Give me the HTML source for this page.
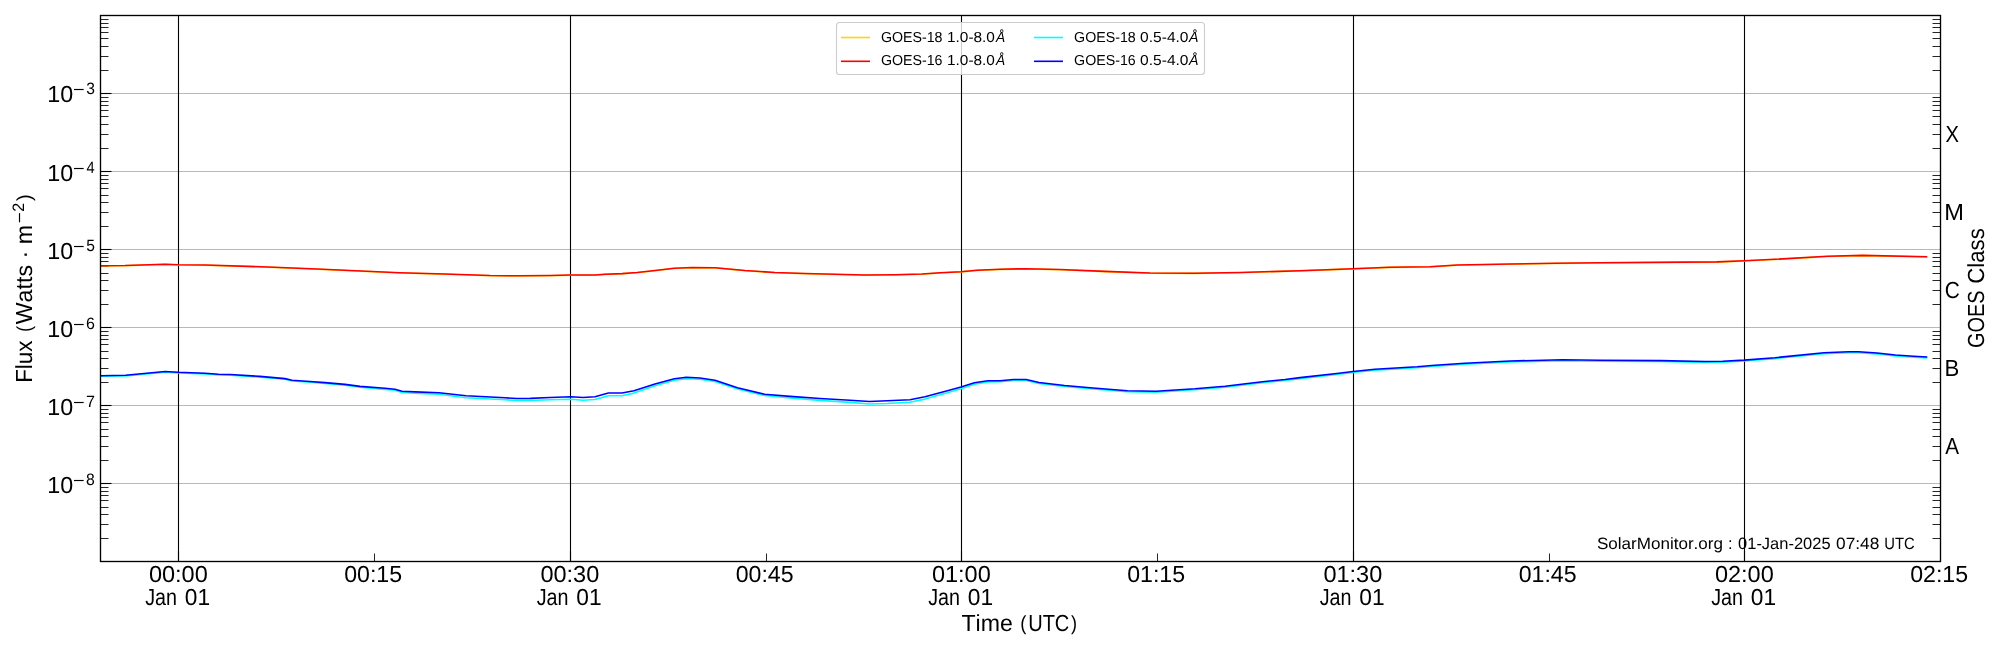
<!DOCTYPE html>
<html><head><meta charset="utf-8"><style>
html,body{margin:0;padding:0;background:#fff;width:2000px;height:650px;overflow:hidden}
svg{display:block;font-family:"Liberation Sans",sans-serif;font-kerning:none;text-rendering:geometricPrecision}
text{font-kerning:none}
</style></head><body>
<svg width="2000" height="650" viewBox="0 0 2000 650">
<rect width="2000" height="650" fill="#fff"/>
<g stroke="#b8b8b8" stroke-width="1.1"><line x1="100.5" y1="93.5" x2="1940.5" y2="93.5"/><line x1="100.5" y1="171.5" x2="1940.5" y2="171.5"/><line x1="100.5" y1="249.5" x2="1940.5" y2="249.5"/><line x1="100.5" y1="327.5" x2="1940.5" y2="327.5"/><line x1="100.5" y1="405.5" x2="1940.5" y2="405.5"/><line x1="100.5" y1="483.5" x2="1940.5" y2="483.5"/></g>
<g stroke="#000" stroke-width="1.1"><line x1="178.5" y1="15.5" x2="178.5" y2="561.5"/><line x1="570.5" y1="15.5" x2="570.5" y2="561.5"/><line x1="961.5" y1="15.5" x2="961.5" y2="561.5"/><line x1="1353.5" y1="15.5" x2="1353.5" y2="561.5"/><line x1="1744.5" y1="15.5" x2="1744.5" y2="561.5"/></g>
<g stroke="#000" stroke-width="1.1"><line x1="100.5" y1="483.5" x2="111.5" y2="483.5"/><line x1="100.5" y1="405.5" x2="111.5" y2="405.5"/><line x1="100.5" y1="327.5" x2="111.5" y2="327.5"/><line x1="100.5" y1="249.5" x2="111.5" y2="249.5"/><line x1="100.5" y1="171.5" x2="111.5" y2="171.5"/><line x1="100.5" y1="93.5" x2="111.5" y2="93.5"/><line x1="178.5" y1="561.5" x2="178.5" y2="550.5"/><line x1="570.5" y1="561.5" x2="570.5" y2="550.5"/><line x1="961.5" y1="561.5" x2="961.5" y2="550.5"/><line x1="1353.5" y1="561.5" x2="1353.5" y2="550.5"/><line x1="1744.5" y1="561.5" x2="1744.5" y2="550.5"/></g>
<g stroke="#000" stroke-width="0.85"><line x1="100.5" y1="538.5" x2="108.5" y2="538.5"/><line x1="1940.5" y1="538.5" x2="1932.5" y2="538.5"/><line x1="100.5" y1="524.5" x2="108.5" y2="524.5"/><line x1="1940.5" y1="524.5" x2="1932.5" y2="524.5"/><line x1="100.5" y1="514.5" x2="108.5" y2="514.5"/><line x1="1940.5" y1="514.5" x2="1932.5" y2="514.5"/><line x1="100.5" y1="507.5" x2="108.5" y2="507.5"/><line x1="1940.5" y1="507.5" x2="1932.5" y2="507.5"/><line x1="100.5" y1="500.5" x2="108.5" y2="500.5"/><line x1="1940.5" y1="500.5" x2="1932.5" y2="500.5"/><line x1="100.5" y1="495.5" x2="108.5" y2="495.5"/><line x1="1940.5" y1="495.5" x2="1932.5" y2="495.5"/><line x1="100.5" y1="491.5" x2="108.5" y2="491.5"/><line x1="1940.5" y1="491.5" x2="1932.5" y2="491.5"/><line x1="100.5" y1="487.5" x2="108.5" y2="487.5"/><line x1="1940.5" y1="487.5" x2="1932.5" y2="487.5"/><line x1="100.5" y1="460.5" x2="108.5" y2="460.5"/><line x1="1940.5" y1="460.5" x2="1932.5" y2="460.5"/><line x1="100.5" y1="446.5" x2="108.5" y2="446.5"/><line x1="1940.5" y1="446.5" x2="1932.5" y2="446.5"/><line x1="100.5" y1="436.5" x2="108.5" y2="436.5"/><line x1="1940.5" y1="436.5" x2="1932.5" y2="436.5"/><line x1="100.5" y1="429.5" x2="108.5" y2="429.5"/><line x1="1940.5" y1="429.5" x2="1932.5" y2="429.5"/><line x1="100.5" y1="422.5" x2="108.5" y2="422.5"/><line x1="1940.5" y1="422.5" x2="1932.5" y2="422.5"/><line x1="100.5" y1="417.5" x2="108.5" y2="417.5"/><line x1="1940.5" y1="417.5" x2="1932.5" y2="417.5"/><line x1="100.5" y1="413.5" x2="108.5" y2="413.5"/><line x1="1940.5" y1="413.5" x2="1932.5" y2="413.5"/><line x1="100.5" y1="409.5" x2="108.5" y2="409.5"/><line x1="1940.5" y1="409.5" x2="1932.5" y2="409.5"/><line x1="100.5" y1="382.5" x2="108.5" y2="382.5"/><line x1="1940.5" y1="382.5" x2="1932.5" y2="382.5"/><line x1="100.5" y1="368.5" x2="108.5" y2="368.5"/><line x1="1940.5" y1="368.5" x2="1932.5" y2="368.5"/><line x1="100.5" y1="358.5" x2="108.5" y2="358.5"/><line x1="1940.5" y1="358.5" x2="1932.5" y2="358.5"/><line x1="100.5" y1="351.5" x2="108.5" y2="351.5"/><line x1="1940.5" y1="351.5" x2="1932.5" y2="351.5"/><line x1="100.5" y1="344.5" x2="108.5" y2="344.5"/><line x1="1940.5" y1="344.5" x2="1932.5" y2="344.5"/><line x1="100.5" y1="339.5" x2="108.5" y2="339.5"/><line x1="1940.5" y1="339.5" x2="1932.5" y2="339.5"/><line x1="100.5" y1="335.5" x2="108.5" y2="335.5"/><line x1="1940.5" y1="335.5" x2="1932.5" y2="335.5"/><line x1="100.5" y1="331.5" x2="108.5" y2="331.5"/><line x1="1940.5" y1="331.5" x2="1932.5" y2="331.5"/><line x1="100.5" y1="304.5" x2="108.5" y2="304.5"/><line x1="1940.5" y1="304.5" x2="1932.5" y2="304.5"/><line x1="100.5" y1="290.5" x2="108.5" y2="290.5"/><line x1="1940.5" y1="290.5" x2="1932.5" y2="290.5"/><line x1="100.5" y1="280.5" x2="108.5" y2="280.5"/><line x1="1940.5" y1="280.5" x2="1932.5" y2="280.5"/><line x1="100.5" y1="273.5" x2="108.5" y2="273.5"/><line x1="1940.5" y1="273.5" x2="1932.5" y2="273.5"/><line x1="100.5" y1="266.5" x2="108.5" y2="266.5"/><line x1="1940.5" y1="266.5" x2="1932.5" y2="266.5"/><line x1="100.5" y1="261.5" x2="108.5" y2="261.5"/><line x1="1940.5" y1="261.5" x2="1932.5" y2="261.5"/><line x1="100.5" y1="257.5" x2="108.5" y2="257.5"/><line x1="1940.5" y1="257.5" x2="1932.5" y2="257.5"/><line x1="100.5" y1="253.5" x2="108.5" y2="253.5"/><line x1="1940.5" y1="253.5" x2="1932.5" y2="253.5"/><line x1="100.5" y1="226.5" x2="108.5" y2="226.5"/><line x1="1940.5" y1="226.5" x2="1932.5" y2="226.5"/><line x1="100.5" y1="212.5" x2="108.5" y2="212.5"/><line x1="1940.5" y1="212.5" x2="1932.5" y2="212.5"/><line x1="100.5" y1="202.5" x2="108.5" y2="202.5"/><line x1="1940.5" y1="202.5" x2="1932.5" y2="202.5"/><line x1="100.5" y1="195.5" x2="108.5" y2="195.5"/><line x1="1940.5" y1="195.5" x2="1932.5" y2="195.5"/><line x1="100.5" y1="188.5" x2="108.5" y2="188.5"/><line x1="1940.5" y1="188.5" x2="1932.5" y2="188.5"/><line x1="100.5" y1="183.5" x2="108.5" y2="183.5"/><line x1="1940.5" y1="183.5" x2="1932.5" y2="183.5"/><line x1="100.5" y1="179.5" x2="108.5" y2="179.5"/><line x1="1940.5" y1="179.5" x2="1932.5" y2="179.5"/><line x1="100.5" y1="175.5" x2="108.5" y2="175.5"/><line x1="1940.5" y1="175.5" x2="1932.5" y2="175.5"/><line x1="100.5" y1="148.5" x2="108.5" y2="148.5"/><line x1="1940.5" y1="148.5" x2="1932.5" y2="148.5"/><line x1="100.5" y1="134.5" x2="108.5" y2="134.5"/><line x1="1940.5" y1="134.5" x2="1932.5" y2="134.5"/><line x1="100.5" y1="124.5" x2="108.5" y2="124.5"/><line x1="1940.5" y1="124.5" x2="1932.5" y2="124.5"/><line x1="100.5" y1="116.5" x2="108.5" y2="116.5"/><line x1="1940.5" y1="116.5" x2="1932.5" y2="116.5"/><line x1="100.5" y1="110.5" x2="108.5" y2="110.5"/><line x1="1940.5" y1="110.5" x2="1932.5" y2="110.5"/><line x1="100.5" y1="105.5" x2="108.5" y2="105.5"/><line x1="1940.5" y1="105.5" x2="1932.5" y2="105.5"/><line x1="100.5" y1="101.5" x2="108.5" y2="101.5"/><line x1="1940.5" y1="101.5" x2="1932.5" y2="101.5"/><line x1="100.5" y1="97.5" x2="108.5" y2="97.5"/><line x1="1940.5" y1="97.5" x2="1932.5" y2="97.5"/><line x1="100.5" y1="70.5" x2="108.5" y2="70.5"/><line x1="1940.5" y1="70.5" x2="1932.5" y2="70.5"/><line x1="100.5" y1="56.5" x2="108.5" y2="56.5"/><line x1="1940.5" y1="56.5" x2="1932.5" y2="56.5"/><line x1="100.5" y1="46.5" x2="108.5" y2="46.5"/><line x1="1940.5" y1="46.5" x2="1932.5" y2="46.5"/><line x1="100.5" y1="38.5" x2="108.5" y2="38.5"/><line x1="1940.5" y1="38.5" x2="1932.5" y2="38.5"/><line x1="100.5" y1="32.5" x2="108.5" y2="32.5"/><line x1="1940.5" y1="32.5" x2="1932.5" y2="32.5"/><line x1="100.5" y1="27.5" x2="108.5" y2="27.5"/><line x1="1940.5" y1="27.5" x2="1932.5" y2="27.5"/><line x1="100.5" y1="23.5" x2="108.5" y2="23.5"/><line x1="1940.5" y1="23.5" x2="1932.5" y2="23.5"/><line x1="100.5" y1="19.5" x2="108.5" y2="19.5"/><line x1="1940.5" y1="19.5" x2="1932.5" y2="19.5"/><line x1="374.5" y1="561.5" x2="374.5" y2="553.5"/><line x1="766.5" y1="561.5" x2="766.5" y2="553.5"/><line x1="1157.5" y1="561.5" x2="1157.5" y2="553.5"/><line x1="1549.5" y1="561.5" x2="1549.5" y2="553.5"/></g>
<defs><clipPath id="ax"><rect x="100.5" y="15.5" width="1840.0" height="546.0"/></clipPath></defs>
<g clip-path="url(#ax)" fill="none" stroke-width="1.6" stroke-linejoin="round" stroke-linecap="butt">
<polyline points="96.0,266.0 100.0,265.9 125.0,265.7 165.2,264.4 178.5,265.0 205.0,265.2 268.0,267.2 317.0,269.2 400.0,273.0 445.0,274.2 490.0,275.7 520.0,276.0 550.0,275.7 570.0,275.2 595.0,275.2 605.0,274.4 622.0,273.8 637.0,272.7 655.0,270.7 674.0,268.5 692.0,267.7 715.0,267.9 745.0,270.7 775.0,272.7 805.0,273.7 835.0,274.5 865.0,275.2 895.0,274.9 922.0,274.2 940.0,273.0 961.0,271.9 977.0,270.4 1000.0,269.5 1025.5,268.9 1060.0,269.7 1105.0,271.6 1150.0,273.2 1195.0,273.4 1240.0,272.7 1300.0,270.9 1353.0,268.9 1390.0,267.4 1430.0,266.9 1457.0,265.2 1510.0,264.2 1555.0,263.5 1600.0,262.9 1717.0,262.1 1744.0,261.0 1775.0,259.5 1827.5,256.5 1862.5,255.6 1927.3,257.0" stroke="#ffd700"/>
<polyline points="96.0,265.8 100.0,265.7 125.0,265.5 165.2,264.2 178.5,264.8 205.0,265.0 268.0,267.0 317.0,269.0 400.0,272.8 445.0,274.0 490.0,275.5 520.0,275.8 550.0,275.5 570.0,275.0 595.0,275.0 605.0,274.2 622.0,273.6 637.0,272.5 655.0,270.5 674.0,268.3 692.0,267.5 715.0,267.7 745.0,270.5 775.0,272.5 805.0,273.5 835.0,274.3 865.0,275.0 895.0,274.7 922.0,274.0 940.0,272.8 961.0,271.7 977.0,270.2 1000.0,269.3 1025.5,268.7 1060.0,269.5 1105.0,271.4 1150.0,273.0 1195.0,273.2 1240.0,272.5 1300.0,270.7 1353.0,268.7 1390.0,267.2 1430.0,266.7 1457.0,265.0 1510.0,264.0 1555.0,263.3 1600.0,262.7 1717.0,261.9 1744.0,260.8 1775.0,259.3 1827.5,256.3 1862.5,255.4 1927.3,256.8" stroke="#ff0000"/>
<polyline points="96.0,376.4 100.0,376.3 125.5,375.9 165.2,372.1 178.0,372.9 205.0,373.9 218.4,374.9 230.4,375.2 260.0,377.1 285.0,379.3 292.0,381.0 310.0,382.2 325.0,383.4 345.0,385.3 360.0,387.3 385.0,389.4 395.0,390.3 402.0,392.5 415.0,393.2 439.0,394.3 466.0,397.7 505.0,399.8 517.0,400.5 530.4,400.5 550.0,399.8 571.0,399.2 583.0,400.2 595.0,399.5 608.4,395.8 622.0,395.7 634.0,393.1 655.0,385.8 674.4,380.3 686.4,378.6 700.0,379.2 715.0,381.4 737.5,389.0 764.5,395.5 790.0,398.0 820.0,400.4 850.0,402.4 869.4,404.0 887.4,403.5 910.0,402.2 925.0,399.1 947.4,392.7 961.0,388.7 974.4,384.2 987.9,381.9 1000.0,381.7 1013.5,380.5 1026.2,380.5 1039.0,383.5 1064.5,386.5 1090.0,388.7 1127.4,391.7 1156.0,392.2 1195.0,389.8 1225.0,387.2 1262.4,382.7 1285.0,380.5 1300.0,378.6 1339.0,374.3 1353.0,372.5 1375.0,370.2 1417.0,367.7 1435.0,366.2 1465.0,364.1 1510.0,361.9 1562.4,360.7 1600.0,361.2 1661.0,361.5 1705.0,362.4 1722.5,362.1 1744.0,361.0 1775.0,358.6 1824.0,353.7 1848.5,352.7 1858.5,352.6 1877.0,353.9 1895.4,355.9 1913.8,357.2 1927.3,357.9" stroke="#00ffff"/>
<polyline points="96.0,375.8 100.0,375.7 125.5,375.3 165.2,371.5 178.0,372.3 205.0,373.2 218.4,374.2 230.4,374.5 260.0,376.4 285.0,378.6 292.0,380.3 310.0,381.5 325.0,382.6 345.0,384.4 360.0,386.4 385.0,388.3 395.0,389.2 402.0,391.3 415.0,391.9 439.0,392.7 466.0,395.7 505.0,397.8 517.0,398.5 530.4,398.4 550.0,397.5 571.0,396.7 583.0,397.5 595.0,396.7 608.4,393.0 622.0,393.0 634.0,390.7 655.0,384.0 674.4,378.7 686.4,377.2 700.0,378.0 715.0,380.2 737.5,387.7 764.5,394.2 790.0,396.4 820.0,398.5 850.0,400.2 869.4,401.5 887.4,400.8 910.0,399.7 925.0,396.7 947.4,390.7 961.0,387.0 974.4,382.8 987.9,380.7 1000.0,380.7 1013.5,379.5 1026.2,379.5 1039.0,382.5 1064.5,385.5 1090.0,387.7 1127.4,390.7 1156.0,391.2 1195.0,388.8 1225.0,386.2 1262.4,381.7 1285.0,379.5 1300.0,377.6 1339.0,373.3 1353.0,371.5 1375.0,369.2 1417.0,366.7 1435.0,365.2 1465.0,363.2 1510.0,361.0 1562.4,359.8 1600.0,360.3 1661.0,360.6 1705.0,361.5 1722.5,361.2 1744.0,360.1 1775.0,357.7 1824.0,352.8 1848.5,351.8 1858.5,351.7 1877.0,353.0 1895.4,355.0 1913.8,356.3 1927.3,357.0" stroke="#0000ff"/>
</g>
<rect x="100.5" y="15.5" width="1840.0" height="546.0" fill="none" stroke="#000" stroke-width="1.35"/>
<rect x="836.5" y="22.5" width="368" height="52" rx="3" ry="3" fill="#fff" fill-opacity="0.8" stroke="#cccccc" stroke-width="1.1"/>
<line x1="841.0" y1="37.5" x2="870.0" y2="37.5" stroke="#ffd700" stroke-width="1.6"/>
<line x1="841.0" y1="61.3" x2="870.0" y2="61.3" stroke="#ff0000" stroke-width="1.6"/>
<line x1="1034.0" y1="37.5" x2="1063.0" y2="37.5" stroke="#00ffff" stroke-width="1.6"/>
<line x1="1034.0" y1="61.3" x2="1063.0" y2="61.3" stroke="#0000ff" stroke-width="1.6"/>
<defs><filter id="gr" filterUnits="userSpaceOnUse" x="0" y="0" width="2000" height="650"><feColorMatrix type="saturate" values="0"/></filter></defs>
<g filter="url(#gr)"><text transform="translate(880.88,42.00) scale(0.9805,1)" font-size="14.50" fill="#000">GOES-18</text><text transform="translate(947.03,42.00) scale(1.0605,1)" font-size="14.50" fill="#000">1.0-8.0</text><text transform="translate(995.98,42.00) scale(0.9472,1)" font-size="14.50" fill="#000"><tspan font-style="italic">Å</tspan></text><text transform="translate(1074.08,42.00) scale(0.9805,1)" font-size="14.50" fill="#000">GOES-18</text><text transform="translate(1140.09,42.00) scale(1.0725,1)" font-size="14.50" fill="#000">0.5-4.0</text><text transform="translate(1189.00,42.00) scale(0.9784,1)" font-size="14.50" fill="#000"><tspan font-style="italic">Å</tspan></text><text transform="translate(880.88,65.00) scale(0.9806,1)" font-size="14.50" fill="#000">GOES-16</text><text transform="translate(947.03,65.00) scale(1.0605,1)" font-size="14.50" fill="#000">1.0-8.0</text><text transform="translate(995.98,65.00) scale(0.9472,1)" font-size="14.50" fill="#000"><tspan font-style="italic">Å</tspan></text><text transform="translate(1074.08,65.00) scale(0.9806,1)" font-size="14.50" fill="#000">GOES-16</text><text transform="translate(1140.09,65.00) scale(1.0725,1)" font-size="14.50" fill="#000">0.5-4.0</text><text transform="translate(1189.00,65.00) scale(0.9784,1)" font-size="14.50" fill="#000"><tspan font-style="italic">Å</tspan></text><text transform="translate(1728.10,549.00) scale(1.0000,1)" font-size="16.40" fill="#000">:</text><text transform="translate(1596.93,549.00) scale(1.0400,1)" font-size="16.40" fill="#000">SolarMonitor.org</text><text transform="translate(1738.06,549.00) scale(1.0048,1)" font-size="16.40" fill="#000">01-Jan-2025</text><text transform="translate(1836.02,549.00) scale(1.0558,1)" font-size="16.40" fill="#000">07:48</text><text transform="translate(1884.26,549.00) scale(0.9021,1)" font-size="16.40" fill="#000">UTC</text><text transform="translate(148.88,582.00) scale(1.0126,1)" font-size="23.26" fill="#000">00:00</text><text transform="translate(145.19,605.00) scale(0.8476,1)" font-size="23.26" fill="#000">Jan</text><text transform="translate(184.81,605.00) scale(0.9778,1)" font-size="23.26" fill="#000">01</text><text transform="translate(344.14,582.00) scale(0.9961,1)" font-size="23.26" fill="#000">00:15</text><text transform="translate(540.38,582.00) scale(1.0126,1)" font-size="23.26" fill="#000">00:30</text><text transform="translate(536.69,605.00) scale(0.8476,1)" font-size="23.26" fill="#000">Jan</text><text transform="translate(576.31,605.00) scale(0.9778,1)" font-size="23.26" fill="#000">01</text><text transform="translate(735.64,582.00) scale(0.9961,1)" font-size="23.26" fill="#000">00:45</text><text transform="translate(931.88,582.00) scale(1.0126,1)" font-size="23.26" fill="#000">01:00</text><text transform="translate(928.19,605.00) scale(0.8476,1)" font-size="23.26" fill="#000">Jan</text><text transform="translate(967.81,605.00) scale(0.9778,1)" font-size="23.26" fill="#000">01</text><text transform="translate(1127.14,582.00) scale(0.9961,1)" font-size="23.26" fill="#000">01:15</text><text transform="translate(1323.38,582.00) scale(1.0126,1)" font-size="23.26" fill="#000">01:30</text><text transform="translate(1319.69,605.00) scale(0.8476,1)" font-size="23.26" fill="#000">Jan</text><text transform="translate(1359.31,605.00) scale(0.9778,1)" font-size="23.26" fill="#000">01</text><text transform="translate(1518.64,582.00) scale(0.9961,1)" font-size="23.26" fill="#000">01:45</text><text transform="translate(1714.88,582.00) scale(1.0126,1)" font-size="23.26" fill="#000">02:00</text><text transform="translate(1711.19,605.00) scale(0.8476,1)" font-size="23.26" fill="#000">Jan</text><text transform="translate(1750.81,605.00) scale(0.9778,1)" font-size="23.26" fill="#000">01</text><text transform="translate(1910.14,582.00) scale(0.9961,1)" font-size="23.26" fill="#000">02:15</text><text transform="translate(47.17,102.00) scale(1.0025,1)" font-size="23.26" fill="#000">10</text><text transform="translate(73.12,94.89) scale(1.2100,1)" font-size="16.50" fill="#000">−</text><text transform="translate(86.21,94.10) scale(0.9459,1)" font-size="16.50" fill="#000">3</text><text transform="translate(47.17,181.00) scale(1.0025,1)" font-size="23.26" fill="#000">10</text><text transform="translate(73.12,173.89) scale(1.2100,1)" font-size="16.50" fill="#000">−</text><text transform="translate(86.46,173.10) scale(0.8900,1)" font-size="16.50" fill="#000">4</text><text transform="translate(47.17,259.00) scale(1.0025,1)" font-size="23.26" fill="#000">10</text><text transform="translate(73.12,251.89) scale(1.2100,1)" font-size="16.50" fill="#000">−</text><text transform="translate(86.18,251.10) scale(0.9459,1)" font-size="16.50" fill="#000">5</text><text transform="translate(47.17,337.00) scale(1.0025,1)" font-size="23.26" fill="#000">10</text><text transform="translate(73.12,329.89) scale(1.2100,1)" font-size="16.50" fill="#000">−</text><text transform="translate(85.99,329.10) scale(0.9720,1)" font-size="16.50" fill="#000">6</text><text transform="translate(47.17,415.00) scale(1.0025,1)" font-size="23.26" fill="#000">10</text><text transform="translate(73.12,407.89) scale(1.2100,1)" font-size="16.50" fill="#000">−</text><text transform="translate(85.97,407.10) scale(0.9866,1)" font-size="16.50" fill="#000">7</text><text transform="translate(47.17,493.00) scale(1.0025,1)" font-size="23.26" fill="#000">10</text><text transform="translate(73.12,485.89) scale(1.2100,1)" font-size="16.50" fill="#000">−</text><text transform="translate(86.11,485.10) scale(0.9558,1)" font-size="16.50" fill="#000">8</text><text transform="translate(1945.45,142.00) scale(0.8688,1)" font-size="23.26" fill="#000">X</text><text transform="translate(1944.16,220.00) scale(1.0154,1)" font-size="23.26" fill="#000">M</text><text transform="translate(1944.74,297.80) scale(0.8961,1)" font-size="23.26" fill="#000">C</text><text transform="translate(1944.58,376.00) scale(0.9532,1)" font-size="23.26" fill="#000">B</text><text transform="translate(1945.26,454.00) scale(0.8883,1)" font-size="23.26" fill="#000">A</text><text transform="translate(961.48,631.00) scale(0.9954,1)" font-size="23.26" fill="#000">Time</text><text transform="translate(1020.15,629.70) scale(0.9086,1)" font-size="20.34" fill="#000">(</text><text transform="translate(1028.15,631.00) scale(0.8621,1)" font-size="23.26" fill="#000">UTC</text><text transform="translate(1070.99,629.70) scale(0.8901,1)" font-size="20.34" fill="#000">)</text><text transform="translate(32.00,382.84) rotate(-90) scale(0.9621,1)" font-size="23.26" fill="#000">Flux</text><text transform="translate(30.75,331.78) rotate(-90) scale(0.8589,1)" font-size="20.20" fill="#000">(</text><text transform="translate(32.00,324.30) rotate(-90) scale(0.9984,1)" font-size="23.26" fill="#000">Watts · m</text><text transform="translate(24.80,223.23) rotate(-90) scale(1.1477,1)" font-size="16.50" fill="#000">−</text><text transform="translate(23.90,211.81) rotate(-90) scale(0.9712,1)" font-size="16.50" fill="#000">2</text><text transform="translate(30.75,201.12) rotate(-90) scale(0.9896,1)" font-size="20.20" fill="#000">)</text><text transform="translate(1984.00,347.90) rotate(-90) scale(0.8557,1)" font-size="23.26" fill="#000">GOES</text><text transform="translate(1984.00,283.83) rotate(-90) scale(0.9565,1)" font-size="23.26" fill="#000">Class</text></g>
</svg>
</body></html>
